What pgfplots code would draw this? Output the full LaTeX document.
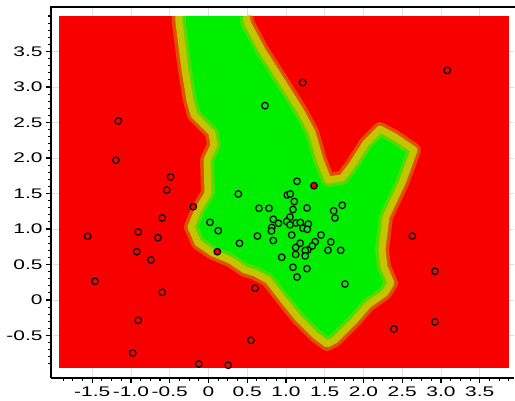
\documentclass[border=0pt]{standalone}
\usepackage{pgfplots}
\pgfplotsset{compat=1.18}
\usepackage{pgfplotstable}
\usepackage{graphicx}
\usepackage{fontspec}
\setmainfont{Liberation Sans}
\newcommand\lbl[1]{\scalebox{1.5}[1]{#1}}

\definecolor{heatred}{RGB}{248,0,0}
\definecolor{heatgreen}{RGB}{0,238,0}
\definecolor{band}{RGB}{196,196,0}

% boundary of the green decision region (open at the top edge)
\pgfplotstableread{
x y
-0.381 4.000
-0.381 3.915
-0.303 3.239
-0.239 2.817
-0.187 2.606
-0.058 2.465
0.045 2.352
0.071 2.183
-0.019 1.972
-0.006 1.507
-0.135 1.268
-0.226 1.028
-0.135 0.803
0.058 0.662
0.277 0.563
0.471 0.423
0.600 0.380
0.768 0.282
0.948 0.028
1.155 -0.254
1.374 -0.493
1.529 -0.620
1.632 -0.563
1.890 -0.282
2.058 -0.070
2.277 0.099
2.355 0.239
2.265 0.465
2.239 0.704
2.265 0.944
2.290 1.169
2.394 1.408
2.497 1.648
2.574 1.873
2.652 2.113
2.406 2.296
2.213 2.408
2.032 2.211
1.852 1.901
1.723 1.718
1.542 1.690
1.439 1.972
1.335 2.366
1.181 2.676
0.961 3.056
0.690 3.521
0.510 3.887
0.484 4.000
}\boundarytab

\pgfplotstableread{
x y
0.385 1.493
0.729 2.737
1.142 1.672
1.017 1.479
1.055 1.493
1.107 1.387
0.652 1.292
0.781 1.292
1.090 1.275
1.271 1.296
1.726 1.334
1.615 1.256
1.632 1.155
0.019 1.094
0.126 0.976
0.632 0.901
0.400 0.799
0.836 1.137
1.052 1.169
1.009 1.106
0.903 1.080
1.129 1.085
1.185 1.092
1.288 1.070
1.052 1.059
1.219 1.010
1.275 0.996
0.817 1.021
0.813 0.972
1.074 0.915
1.452 0.915
0.836 0.838
1.183 0.800
1.377 0.821
1.578 0.817
1.125 0.739
1.339 0.761
1.281 0.704
1.249 0.697
1.542 0.700
1.706 0.700
1.125 0.641
1.248 0.620
0.945 0.601
1.090 0.461
1.271 0.441
1.142 0.324
1.761 0.225
}\greenpts

\pgfplotstableread{
x y
-1.164 2.521
-1.194 1.968
-0.488 1.732
-0.539 1.549
3.081 3.235
1.215 3.063
1.361 1.610
-0.196 1.314
-0.596 1.155
-1.559 0.897
-0.906 0.958
-0.652 0.877
-0.926 0.680
0.114 0.680
-0.742 0.563
-1.465 0.263
-0.596 0.108
0.600 0.165
-0.906 -0.286
0.548 -0.568
-0.978 -0.746
-0.126 -0.901
0.255 -0.920
2.630 0.901
2.923 0.404
2.923 -0.310
2.394 -0.408
}\redpts

\begin{document}
\begin{tikzpicture}
\begin{axis}[
    name=main,
    scale only axis,
    width=463bp,
    height=371bp,
    xmin=-2.032, xmax=3.942,
    ymin=-1.099, ymax=4.127,
    axis x line=box,
    axis y line=left,
    axis line style={-, line width=2pt, black},
    xtick pos=bottom,
    xtick={-1.5,-1,-0.5,0,0.5,1,1.5,2,2.5,3,3.5},
    xticklabels={\lbl{-1.5},\lbl{-1.0},\lbl{-0.5},\lbl{0},\lbl{0.5},\lbl{1.0},\lbl{1.5},\lbl{2.0},\lbl{2.5},\lbl{3.0},\lbl{3.5}},
    ytick={-0.5,0,0.5,1,1.5,2,2.5,3,3.5},
    yticklabels={\lbl{-0.5},\lbl{0},\lbl{0.5},\lbl{1.0},\lbl{1.5},\lbl{2.0},\lbl{2.5},\lbl{3.0},\lbl{3.5}},
    minor xtick={-1.875,-1.75,-1.625,-1.375,-1.25,-1.125,-0.875,-0.75,-0.625,-0.375,-0.25,-0.125,0.125,0.25,0.375,0.625,0.75,0.875,1.125,1.25,1.375,1.625,1.75,1.875,2.125,2.25,2.375,2.625,2.75,2.875,3.125,3.25,3.375,3.625,3.75,3.875},
    minor ytick={-0.9,-0.8,-0.7,-0.6,-0.4,-0.3,-0.2,-0.1,0.1,0.2,0.3,0.4,0.6,0.7,0.8,0.9,1.1,1.2,1.3,1.4,1.6,1.7,1.8,1.9,2.1,2.2,2.3,2.4,2.6,2.7,2.8,2.9,3.1,3.2,3.3,3.4,3.6,3.7,3.8,3.9,4.0},
    tick align=outside,
    major tick length=5bp,
    minor tick length=3bp,
    tick style={black, line width=1.1pt},
    grid=major,
    major grid style={black!12, line width=0.8pt},
    minor grid style={draw=none},
    tick label style={font=\fontsize{14}{14}\selectfont},
]
    % background: red class
    \addplot[fill=heatred, draw=none] coordinates {
        (-1.93,-0.96) (3.88,-0.96) (3.88,4.0) (-1.93,4.0)};
    % green class region with a soft yellow edge
    \addplot[fill=heatgreen, draw=none] table {\boundarytab};
    \addplot[draw=band, draw opacity=0.4, line width=14bp, line join=round] table {\boundarytab};
    \addplot[draw=band, line width=7bp, line join=round] table {\boundarytab};

    \addplot[only marks, mark=*, mark size=3.3pt,
        mark options={draw=black, fill=heatgreen, line width=1.2pt}] table {\greenpts};
    \addplot[only marks, mark=*, mark size=3.3pt,
        mark options={draw=black, fill=heatred, line width=1.2pt}] table {\redpts};
\end{axis}
\pgfresetboundingbox
\useasboundingbox ([shift={(-51bp,-23bp)}]main.south west) rectangle ([shift={(1bp,7bp)}]main.north east);
\fill[black] ([shift={(-1bp,-1.2bp)}]main.north west) rectangle ([shift={(1bp,1.2bp)}]main.north east);
\end{tikzpicture}
\end{document}
